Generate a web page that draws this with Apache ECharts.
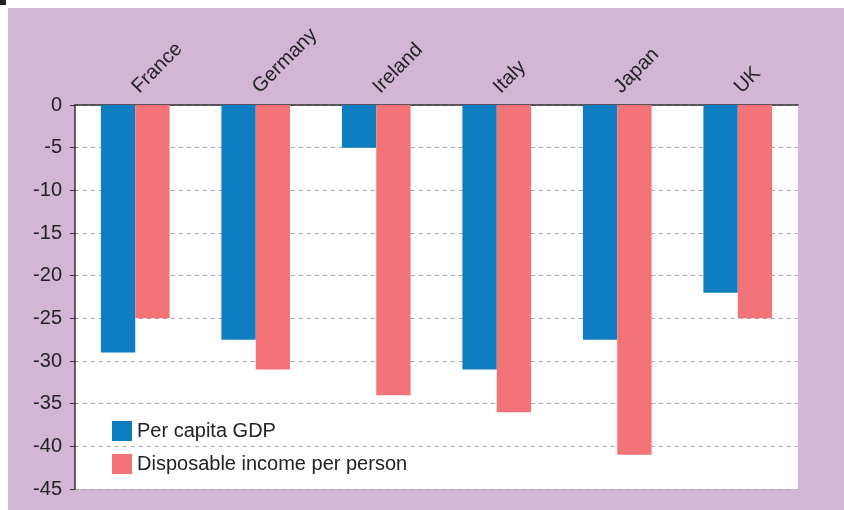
<!DOCTYPE html>
<html>
<head>
<meta charset="utf-8">
<script src="https://cdn.jsdelivr.net/npm/echarts@6/dist/echarts.min.js"></script>
<style>
  html, body { margin: 0; padding: 0; background: #fff; }
  #chart { width: 844px; height: 510px; }
</style>
</head>
<body>
<div id="chart"></div>
<script>
// countries along the top axis
const countries = ['France', 'Germany', 'Ireland', 'Italy', 'Japan', 'UK'];
// per cent change
const gdpPerCapita = [-29, -27.5, -5, -31, -27.5, -22];
const incomePerPerson = [-25, -31, -34, -36, -41, -25];
const yTicks = [0, -5, -10, -15, -20, -25, -30, -35, -40, -45];

const chart = echarts.init(document.getElementById('chart'));
chart.setOption({
    animation: false,
    backgroundColor: '#fff',
    textStyle: { fontFamily: 'Liberation Sans, Arial, sans-serif' },
    graphic: [
        { type: 'rect', left: 8, top: 8, shape: { width: 836, height: 502 }, style: { fill: '#d3b5d5' }, z: -10 },
        { type: 'rect', left: 0, top: 0, shape: { width: 6, height: 5 }, style: { fill: '#222' } }
    ],
    grid: {
        left: 75, right: 46, top: 105, bottom: 21,
        show: true, backgroundColor: '#fff', borderWidth: 0
    },
    legend: {
        orient: 'vertical',
        left: 107, top: 416,
        itemWidth: 20, itemHeight: 20, itemGap: 13,
        icon: 'rect',
        textStyle: { fontSize: 20, color: '#222' },
        data: ['Per capita GDP', 'Disposable income per person']
    },
    xAxis: {
        type: 'category',
        position: 'top',
        data: countries,
        axisLine: { lineStyle: { color: '#333', width: 1.5 } },
        axisTick: { inside: true, length: 5, lineStyle: { color: '#333' } },
        axisLabel: { rotate: 45, fontSize: 20, color: '#222', margin: 15 }
    },
    yAxis: {
        type: 'value',
        min: -45, max: 0, interval: 5,
        axisLine: { show: true, lineStyle: { color: '#333', width: 1.5 } },
        axisTick: { show: true, length: 5, lineStyle: { color: '#333' } },
        axisLabel: {
            fontSize: 20, color: '#222', margin: 13,
            formatter: v => yTicks.includes(v) ? String(v) : ''
        },
        splitLine: { lineStyle: { color: '#aaa', type: [4, 4] } }
    },
    series: [
        {
            name: 'Per capita GDP', type: 'bar', data: gdpPerCapita,
            itemStyle: { color: '#0f7dc2' },
            barGap: '0%', barCategoryGap: '43%'
        },
        {
            name: 'Disposable income per person', type: 'bar', data: incomePerPerson,
            itemStyle: { color: '#f27479' },
            barGap: '0%', barCategoryGap: '43%'
        }
    ]
});
</script>
</body>
</html>
